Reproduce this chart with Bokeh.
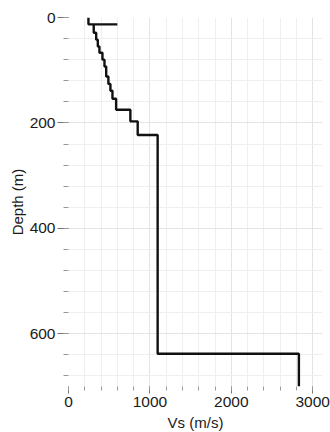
from bokeh.plotting import figure
from bokeh.models import Range1d, SingleIntervalTicker
from bokeh.embed import file_html
from bokeh.resources import INLINE

# Layered shear-wave velocity profile
layer_top_m = [0, 13, 13, 29, 42, 55, 67, 80, 93, 112, 126, 139, 154, 175, 197, 223, 638]
vs_mps = [245, 600, 310, 340, 360, 380, 417, 442, 463, 490, 515, 540, 585, 760, 850, 1095, 2830]
profile_bottom_m = 700

x_label = "Vs (m/s)"
y_label = "Depth (m)"

# build step path from layers
layer_bottom_m = layer_top_m[1:] + [profile_bottom_m]
xs, ys = [], []
for v, t, b in zip(vs_mps, layer_top_m, layer_bottom_m):
    xs += [v, v]
    ys += [t, b]

FONT = "Liberation Sans"

p = figure(
    frame_width=254, frame_height=369,
    x_range=Range1d(0, 3120), y_range=Range1d(700, 0),
    output_backend="svg", toolbar_location=None,
    min_border_left=68, min_border_right=8, min_border_top=17, min_border_bottom=46,
)
p.outline_line_color = None
p.background_fill_color = "white"
p.border_fill_color = "white"

p.line(xs, ys, line_color="#111111", line_width=2.4)

p.xaxis.ticker = SingleIntervalTicker(interval=1000, num_minor_ticks=5)
p.yaxis.ticker = SingleIntervalTicker(interval=200, num_minor_ticks=5)
p.xgrid.ticker = p.xaxis.ticker
p.ygrid.ticker = p.yaxis.ticker

for g in (p.xgrid, p.ygrid):
    g.grid_line_color = "#e4e4e4"
    g.grid_line_width = 1
    g.minor_grid_line_color = "#efefef"
    g.minor_grid_line_width = 1

for ax in (p.xaxis, p.yaxis):
    ax.axis_line_color = None
    ax.major_tick_line_color = "#777777"
    ax.minor_tick_line_color = "#999999"
    ax.major_tick_in = 0
    ax.minor_tick_in = 0
    ax.major_label_text_font = FONT
    ax.major_label_text_font_size = "15.5px"
    ax.major_label_text_color = "#1a1a1a"
    ax.axis_label_text_font = FONT
    ax.axis_label_text_font_size = "15px"
    ax.axis_label_text_font_style = "normal"
    ax.axis_label_text_color = "#1a1a1a"

p.xaxis.axis_label = x_label
p.yaxis.axis_label = y_label
p.xaxis.major_tick_out = 7
p.xaxis.minor_tick_out = 4
p.yaxis.major_tick_out = 11
p.yaxis.minor_tick_out = 5
p.xaxis.major_label_standoff = 3
p.yaxis.major_label_standoff = 2
p.xaxis.axis_label_standoff = 4
p.yaxis.axis_label_standoff = 1

open("out.html", "w").write(file_html(p, INLINE))
